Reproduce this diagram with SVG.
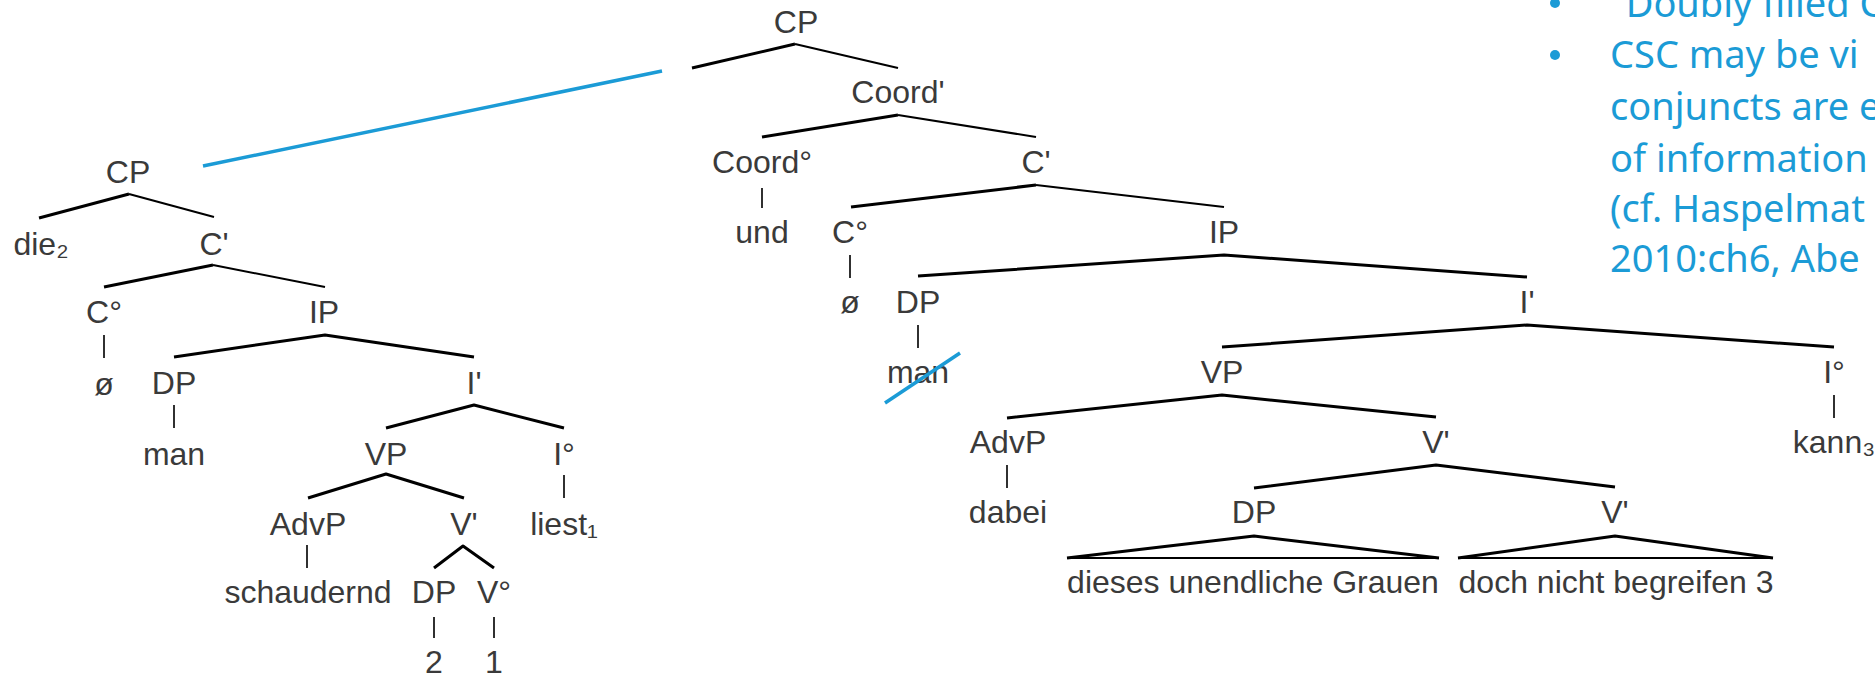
<svg xmlns="http://www.w3.org/2000/svg" width="1875" height="677" viewBox="0 0 1875 677">
<style>
.t{font-family:"Liberation Sans",Arial,sans-serif;font-size:32px;fill:#3a3a3a;text-anchor:middle}
.b{stroke:#000;stroke-width:3;fill:none;stroke-linecap:butt;stroke-linejoin:round}
.n{stroke:#000;stroke-width:2;fill:none}
.v{stroke:#1a1a1a;stroke-width:1.8;fill:none}
.blue{stroke:#1b9bd6;stroke-width:3.5;fill:none}
.bt{font-family:"Noto Sans","Open Sans",sans-serif;font-size:38px;fill:#1b9bd6}
</style>
<rect width="1875" height="677" fill="#fff"/>
<g id="connectors">
<polyline class="b" points="39,218 129,194"/><polyline class="n" points="129,194 214,217"/>
<polyline class="b" points="104,287 213,265"/><polyline class="n" points="213,265 325,287"/>
<line class="v" x1="104" y1="335" x2="104" y2="358"/>
<polyline class="b" points="174,357 325,335 474,357"/>
<line class="v" x1="174" y1="405" x2="174" y2="428"/>
<polyline class="b" points="386,428 474,405 564,428"/>
<polyline class="b" points="308,498 386,474 464,498"/>
<line class="v" x1="564" y1="475" x2="564" y2="498"/>
<line class="v" x1="307" y1="545" x2="307" y2="568"/>
<polyline class="b" points="434,568 463,546 494,568"/>
<line class="v" x1="434" y1="617" x2="434" y2="638"/>
<line class="v" x1="494" y1="617" x2="494" y2="638"/>
<polyline class="b" points="692,68 795,44"/><polyline class="n" points="795,44 898,68"/>
<polyline class="b" points="762,137 898,115"/><polyline class="n" points="898,115 1036,137"/>
<line class="v" x1="762" y1="188" x2="762" y2="208"/>
<polyline class="b" points="851,207 1036,185"/><polyline class="n" points="1036,185 1224,207"/>
<line class="v" x1="850" y1="255" x2="850" y2="278"/>
<polyline class="b" points="918,276 1224,255 1527,277"/>
<line class="v" x1="918" y1="325" x2="918" y2="348"/>
<polyline class="b" points="1222,347 1527,325 1834,347"/>
<polyline class="b" points="1007,418 1222,395 1436,417"/>
<line class="v" x1="1834" y1="395" x2="1834" y2="418"/>
<line class="v" x1="1007" y1="465" x2="1007" y2="488"/>
<polyline class="b" points="1254,488 1436,465 1615,487"/>
<polyline class="b" points="1067,558 1254,536 1439,558"/>
<line class="n" x1="1067" y1="558" x2="1439" y2="558"/>
<polyline class="b" points="1458,558 1615,536 1773,558"/>
<line class="n" x1="1458" y1="558" x2="1773" y2="558"/>
<line class="blue" x1="203" y1="166" x2="662" y2="71"/>
</g>
<g id="n-cp-l"><text class="t" x="128" y="183">CP</text></g>
<g id="n-die"><text class="t" x="41" y="255">die₂</text></g>
<g id="n-cbar-l"><text class="t" x="214" y="255">C'</text></g>
<g id="n-c0-l"><text class="t" x="104" y="323">C°</text></g>
<g id="n-ip-l"><text class="t" x="324" y="323">IP</text></g>
<g id="n-null-l"><text class="t" x="104" y="395">ø</text></g>
<g id="n-dp-l"><text class="t" x="174" y="394">DP</text></g>
<g id="n-ibar-l"><text class="t" x="474" y="394">I'</text></g>
<g id="n-man-l"><text class="t" x="174" y="465">man</text></g>
<g id="n-vp-l"><text class="t" x="386" y="465">VP</text></g>
<g id="n-i0-l"><text class="t" x="564" y="465">I°</text></g>
<g id="n-advp-l"><text class="t" x="308" y="535">AdvP</text></g>
<g id="n-vbar-l"><text class="t" x="464" y="535">V'</text></g>
<g id="n-liest"><text class="t" x="564" y="535">liest₁</text></g>
<g id="n-schaudernd"><text class="t" x="308" y="603">schaudernd</text></g>
<g id="n-dp2-l"><text class="t" x="434" y="603">DP</text></g>
<g id="n-v0-l"><text class="t" x="494" y="603">V°</text></g>
<g id="n-2"><text class="t" x="434" y="673">2</text></g>
<g id="n-1"><text class="t" x="494" y="673">1</text></g>
<g id="n-cp-t"><text class="t" x="796" y="33">CP</text></g>
<g id="n-coordbar"><text class="t" x="898" y="103">Coord'</text></g>
<g id="n-coord0"><text class="t" x="762" y="173">Coord°</text></g>
<g id="n-cbar-r"><text class="t" x="1036" y="173">C'</text></g>
<g id="n-und"><text class="t" x="762" y="243">und</text></g>
<g id="n-c0-r"><text class="t" x="850" y="243">C°</text></g>
<g id="n-ip-r"><text class="t" x="1224" y="243">IP</text></g>
<g id="n-null-r"><text class="t" x="850" y="313">ø</text></g>
<g id="n-dp-r"><text class="t" x="918" y="313">DP</text></g>
<g id="n-ibar-r"><text class="t" x="1527" y="313">I'</text></g>
<g id="n-man-r"><text class="t" x="918" y="383">man</text><line class="blue" x1="885" y1="403" x2="960" y2="353"/></g>
<g id="n-vp-r"><text class="t" x="1222" y="383">VP</text></g>
<g id="n-i0-r"><text class="t" x="1834" y="383">I°</text></g>
<g id="n-advp-r"><text class="t" x="1008" y="453">AdvP</text></g>
<g id="n-vbar-r1"><text class="t" x="1436" y="453">V'</text></g>
<g id="n-kann"><text class="t" x="1834" y="453">kann₃</text></g>
<g id="n-dabei"><text class="t" x="1008" y="523">dabei</text></g>
<g id="n-dp-r2"><text class="t" x="1254" y="523">DP</text></g>
<g id="n-vbar-r2"><text class="t" x="1615" y="523">V'</text></g>
<g id="n-dieses"><text class="t" x="1253" y="593">dieses unendliche Grauen</text></g>
<g id="n-doch"><text class="t" x="1616" y="593">doch nicht begreifen 3</text></g>
<g id="notes">
<circle cx="1555" cy="3" r="5" fill="#1b9bd6"/>
<circle cx="1555" cy="55" r="5" fill="#1b9bd6"/>
<text class="bt" x="1612" y="17">“Doubly filled C</text>
<text class="bt" x="1610" y="68">CSC may be vi</text>
<text class="bt" x="1610" y="120">conjuncts are e</text>
<text class="bt" x="1610" y="172">of information</text>
<text class="bt" x="1610" y="222">(cf. Haspelmat</text>
<text class="bt" x="1610" y="272">2010:ch6, Abe</text>
</g>
</svg>
